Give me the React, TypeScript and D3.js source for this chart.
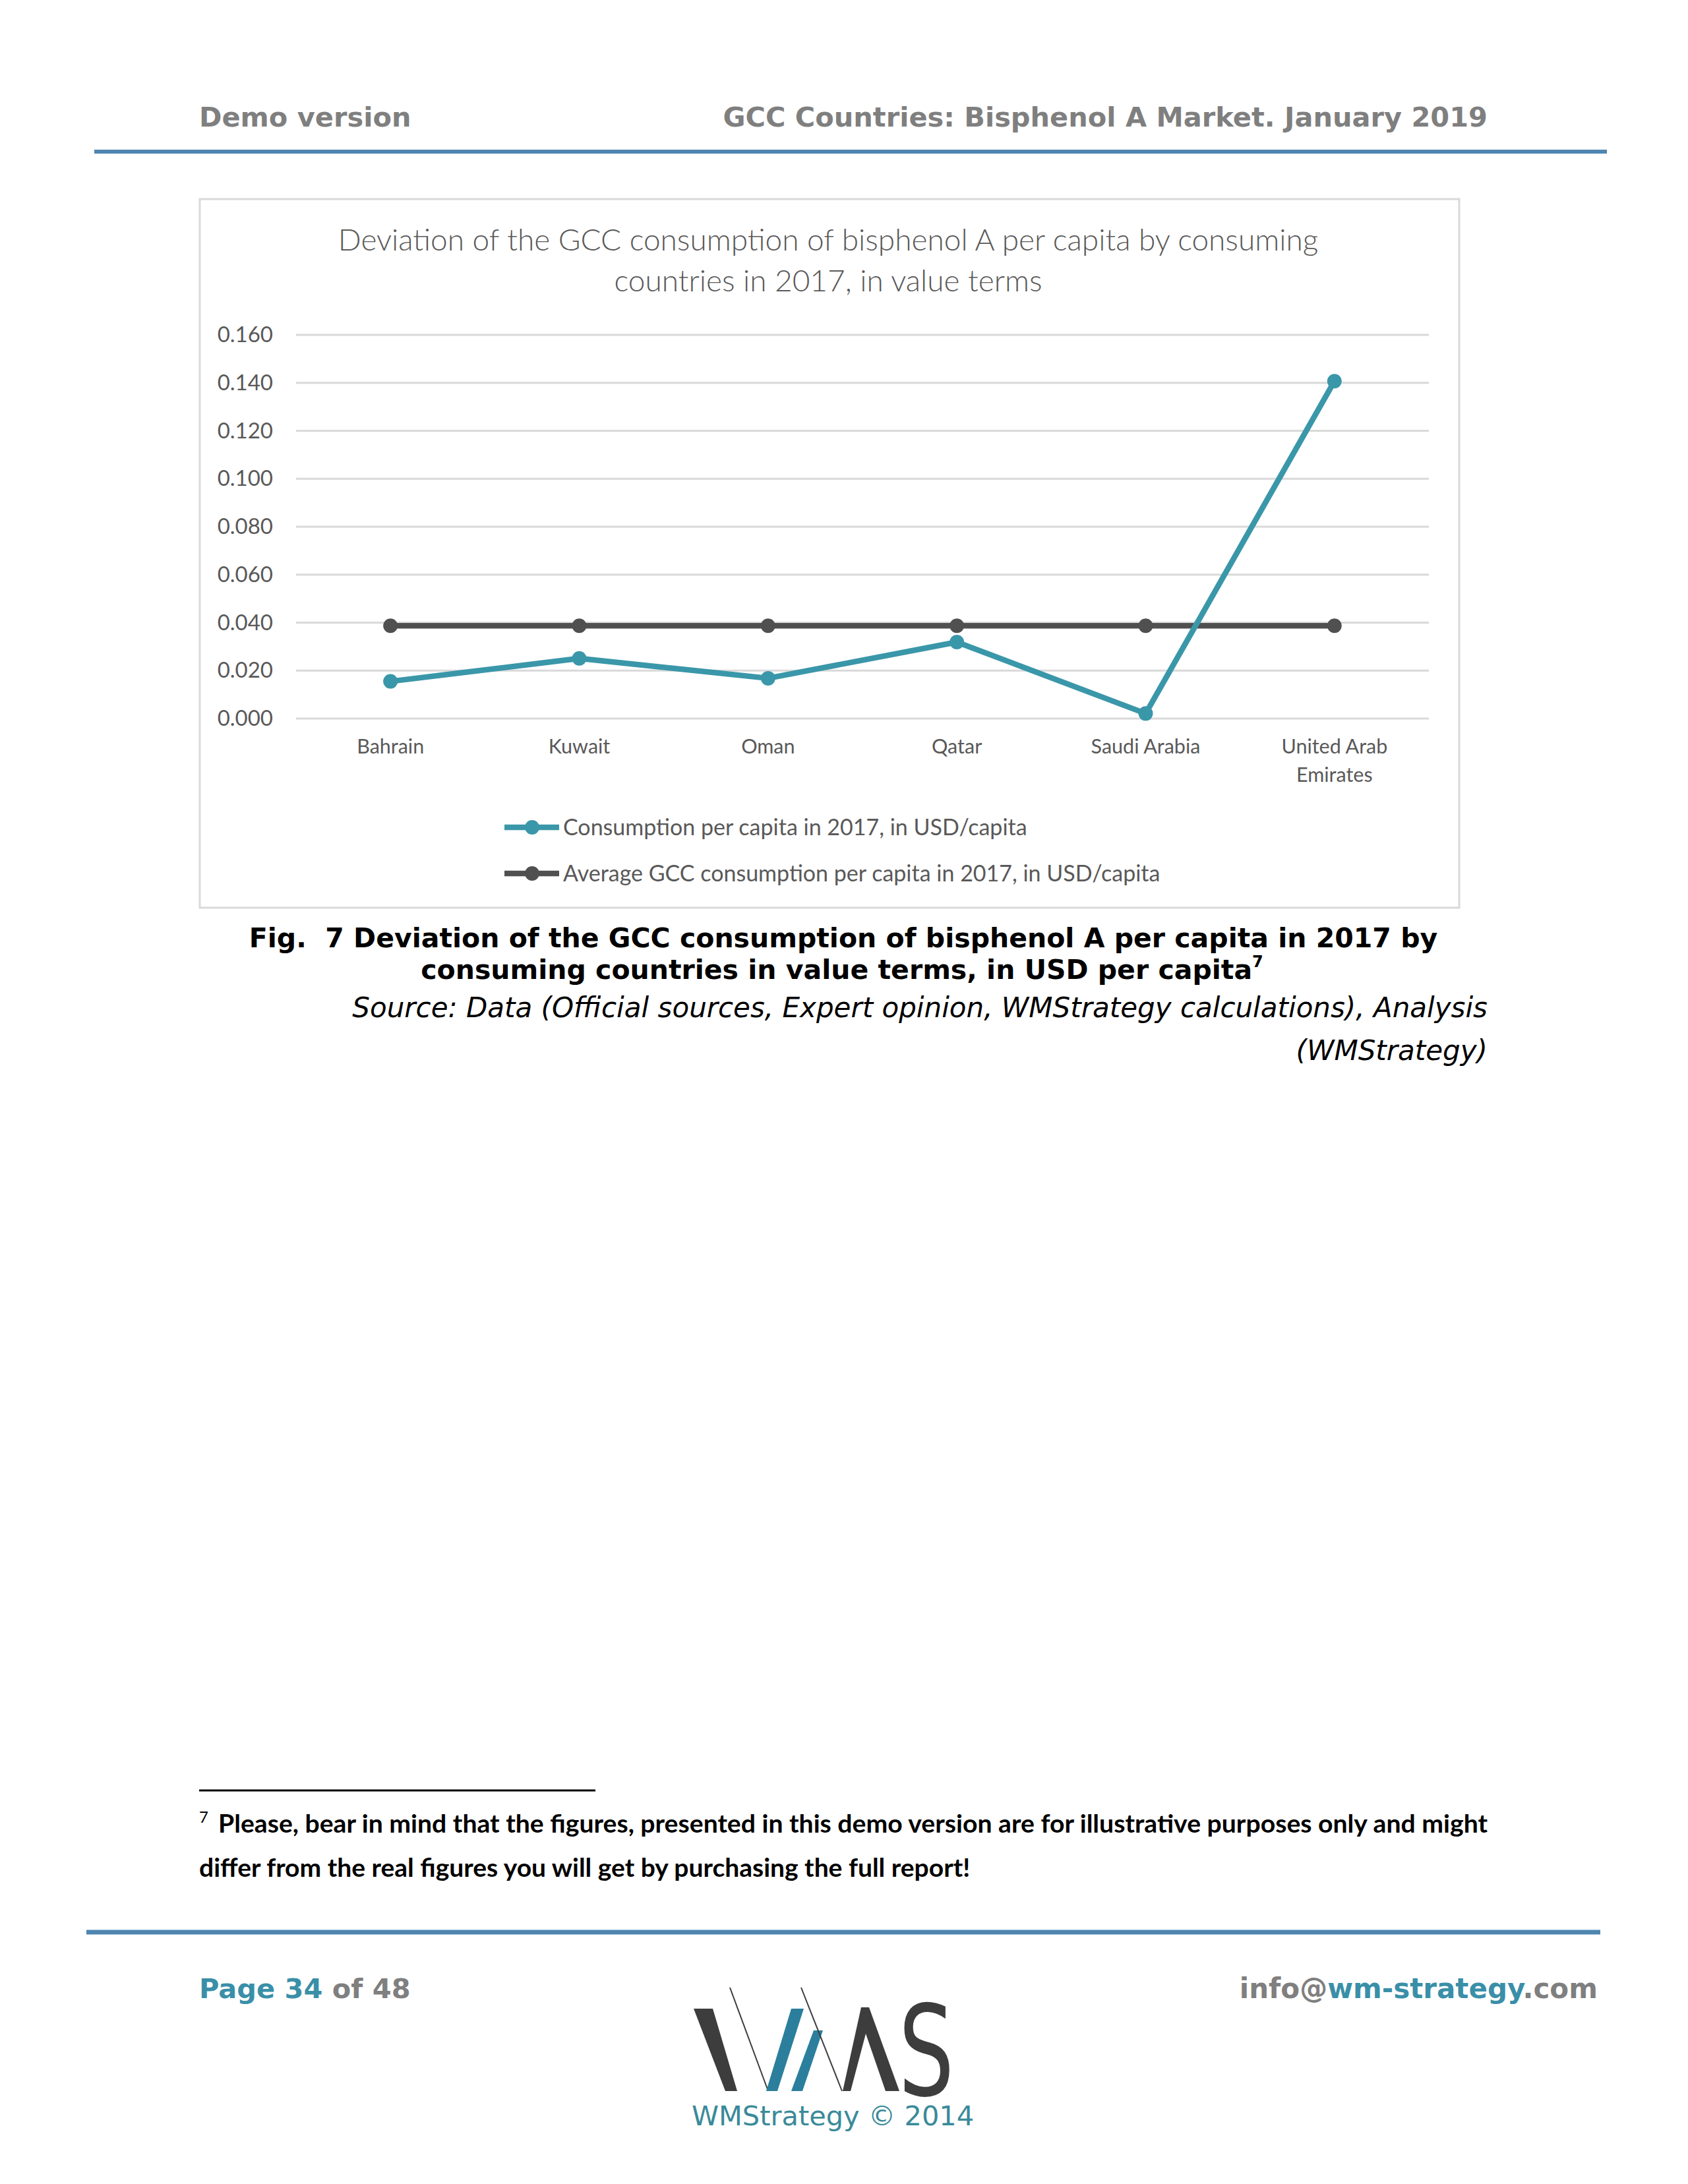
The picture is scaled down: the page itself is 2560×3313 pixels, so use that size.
import * as d3 from "d3";

const categories = ["Bahrain", "Kuwait", "Oman", "Qatar", "Saudi Arabia", "United Arab Emirates"];
const categoryLines = [["Bahrain"], ["Kuwait"], ["Oman"], ["Qatar"], ["Saudi Arabia"], ["United Arab", "Emirates"]];
const consumption = [0.0155, 0.0251, 0.0168, 0.0319, 0.0021, 0.1407];
const gccAverage = [0.0387, 0.0387, 0.0387, 0.0387, 0.0387, 0.0387];
const yTicks = [0, 0.02, 0.04, 0.06, 0.08, 0.1, 0.12, 0.14, 0.16];

const seriesNames = [
  "Consumption per capita in 2017, in USD/capita",
  "Average GCC consumption per capita in 2017, in USD/capita",
];
const titleLines = [
  "Deviation of the GCC consumption of bisphenol A per capita by consuming",
  "countries in 2017, in value terms",
];

const W = 2560;
const H = 3313;
const TEAL = "#3a97a9";
const DARK = "#505050";
const GRAY_TXT = "#595959";
const CALIBRI = "Lato, 'Open Sans', sans-serif";
const VERDANA = "'DejaVu Sans', Verdana, sans-serif";

export default function App() {
  const x = d3.scalePoint<string>().domain(categories).range([449, 2167]).padding(0.5);
  const y = d3.scaleLinear().domain([0, 0.16]).range([1090, 508]);
  const fmt = d3.format(".3f");

  const line = d3
    .line<number>()
    .x((_, i) => x(categories[i]) as number)
    .y((d) => y(d));

  const series = [
    { name: seriesNames[0], values: consumption, color: TEAL },
    { name: seriesNames[1], values: gccAverage, color: DARK },
  ];

  return (
    <svg
      width={W}
      height={H}
      style={{ position: "absolute", left: 0, top: 0, background: "#fff" }}
      xmlns="http://www.w3.org/2000/svg"
    >
      {/* page header */}
      <text x={302} y={192} fontFamily={VERDANA} fontWeight="bold" fontSize={41.5} fill="#7f7f7f">
        Demo version
      </text>
      <text x={2256} y={192} textAnchor="end" fontFamily={VERDANA} fontWeight="bold" fontSize={41.5} fill="#7f7f7f">
        GCC Countries: Bisphenol A Market. January 2019
      </text>
      <line x1={143} x2={2437} y1={230} y2={230} stroke="#4f86b1" strokeWidth={6} />

      {/* chart box */}
      <rect x={303} y={302} width={1910} height={1075} fill="#fff" stroke="#d9d9d9" strokeWidth={3} />
      {titleLines.map((t, i) => (
        <text key={t} x={1256} y={380 + i * 62} textAnchor="middle" fontFamily={CALIBRI} fontWeight={300} fontSize={46} fill={GRAY_TXT}>
          {t}
        </text>
      ))}

      {/* grid + y ticks */}
      {yTicks.map((t) => (
        <g key={t}>
          <line x1={449} x2={2167} y1={y(t)} y2={y(t)} stroke="#d9d9d9" strokeWidth={3} />
          <text x={414} y={y(t) + 11} textAnchor="end" fontFamily={CALIBRI} fontSize={33} fill={GRAY_TXT}>
            {fmt(t)}
          </text>
        </g>
      ))}

      {/* x labels */}
      {categories.map((c, i) =>
        categoryLines[i].map((l, j) => (
          <text key={c + j} x={x(c)} y={1143 + j * 43} textAnchor="middle" fontFamily={CALIBRI} fontSize={30.5} fill={GRAY_TXT}>
            {l}
          </text>
        ))
      )}

      {/* series: average drawn first, consumption on top */}
      {[series[1], series[0]].map((s) => (
        <g key={s.name}>
          <path d={line(s.values) ?? ""} fill="none" stroke={s.color} strokeWidth={8.5} strokeLinejoin="round" />
          {s.values.map((v, i) => (
            <circle key={i} cx={x(categories[i])} cy={y(v)} r={11} fill={s.color} />
          ))}
        </g>
      ))}

      {/* legend */}
      {series.map((s, i) => {
        const ly = 1255 + i * 70;
        return (
          <g key={s.name}>
            <line x1={765} x2={848} y1={ly} y2={ly} stroke={s.color} strokeWidth={8.5} />
            <circle cx={807} cy={ly} r={11} fill={s.color} />
            <text x={854} y={ly + 12} fontFamily={CALIBRI} fontSize={34} fill={GRAY_TXT}>
              {s.name}
            </text>
          </g>
        );
      })}

      {/* figure caption */}
      <text x={1279} y={1437} textAnchor="middle" fontFamily={VERDANA} fontWeight="bold" fontSize={41} fill="#000" style={{ whiteSpace: "pre" }}>
        {"Fig.  7 Deviation of the GCC consumption of bisphenol A per capita in 2017 by"}
      </text>
      <text x={1277} y={1485} textAnchor="middle" fontFamily={VERDANA} fontWeight="bold" fontSize={41} fill="#000">
        consuming countries in value terms, in USD per capita
        <tspan fontSize={24} dy={-18}>7</tspan>
      </text>
      <text x={2256} y={1543} textAnchor="end" fontFamily={VERDANA} fontStyle="italic" fontSize={42} fill="#000">
        Source: Data (Official sources, Expert opinion, WMStrategy calculations), Analysis
      </text>
      <text x={2256} y={1608} textAnchor="end" fontFamily={VERDANA} fontStyle="italic" fontSize={42} fill="#000">
        (WMStrategy)
      </text>

      {/* footnote */}
      <line x1={302} x2={903} y1={2716} y2={2716} stroke="#000" strokeWidth={3} />
      <text x={302} y={2765} fontFamily={CALIBRI} fontSize={24} fill="#000">7</text>
      <text x={331} y={2780} fontFamily={CALIBRI} fontWeight="bold" fontSize={38.5} fill="#000" textLength={1925} lengthAdjust="spacingAndGlyphs">
        Please, bear in mind that the figures, presented in this demo version are for illustrative purposes only and might
      </text>
      <text x={302} y={2847} fontFamily={CALIBRI} fontWeight="bold" fontSize={39} fill="#000">
        differ from the real figures you will get by purchasing the full report!
      </text>

      {/* page footer */}
      <line x1={131} x2={2427} y1={2931} y2={2931} stroke="#4f86b1" strokeWidth={7} />
      <text x={302} y={3031} fontFamily={VERDANA} fontWeight="bold" fontSize={41.5} fill="#7f7f7f">
        <tspan fill="#3a8fa8">Page 34</tspan> of 48
      </text>
      <text x={2423} y={3031} textAnchor="end" fontFamily={VERDANA} fontWeight="bold" fontSize={42} fill="#7f7f7f">
        info@<tspan fill="#3a8fa8">wm-strategy</tspan>.com
      </text>

      {/* logo */}
      <g>
        <polygon points="1052,3047 1081,3047 1118,3172 1100,3172" fill="#3d3d3d" />
        <line x1={1107} y1={3015} x2={1165} y2={3172} stroke="#3d3d3d" strokeWidth={2} />
        <polygon points="1200,3047 1219,3047 1179,3172 1162,3172" fill="#2b7f9c" />
        <polygon points="1234,3080 1248,3080 1217,3172 1200,3172" fill="#2b7f9c" />
        <line x1={1215} y1={3015} x2={1277} y2={3172} stroke="#3d3d3d" strokeWidth={2} />
        <polygon points="1306,3045 1318,3045 1364,3172 1343,3172 1313,3085 1290,3172 1278,3172" fill="#3d3d3d" />
        <text x={1405} y={3178} textAnchor="middle" fontFamily={VERDANA} fontSize={190} fill="#3d3d3d" transform="translate(1405,0) scale(0.7,1) translate(-1405,0)">
          S
        </text>
        <text x={1049} y={3224} fontFamily={VERDANA} fontSize={41.5} fill="#3a8a99">
          WMStrategy © 2014
        </text>
      </g>
    </svg>
  );
}
